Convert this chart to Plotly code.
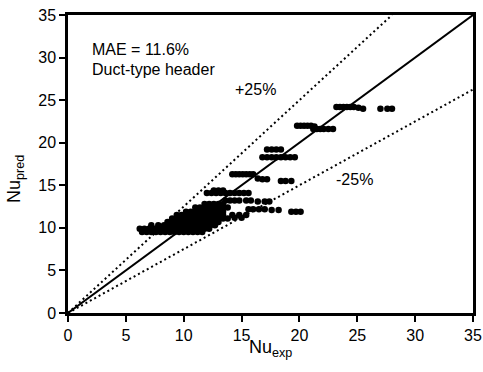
import plotly.graph_objects as go

# ---- data (Nu_exp, Nu_pred) ----
cluster_x = [6.4, 6.8, 7.2, 7.6, 8.0, 8.4, 8.8, 9.2, 9.6, 10.0, 10.4, 10.8, 11.2, 11.6,
             6.2, 6.6, 7.0, 7.4, 7.8, 8.2, 8.6, 9.0, 9.4, 9.8, 10.2, 10.6, 11.0, 11.4, 11.8, 12.2,
             7.2, 7.8, 8.3, 8.7, 9.1, 9.5, 9.9, 10.3, 10.7, 11.1, 11.5, 11.9, 12.3, 12.7,
             8.6, 9.0, 9.4, 9.8, 10.2, 10.6, 11.0, 11.4, 11.8, 12.2, 12.6, 13.0,
             9.0, 9.4, 9.8, 10.2, 10.6, 11.0, 11.4, 11.8, 12.2, 12.6, 13.0, 13.4, 13.8, 14.4, 15.0,
             9.4, 9.8, 10.2, 10.6, 11.0, 11.4, 11.8, 12.2, 12.6, 13.0, 13.4, 14.2, 14.8, 15.4,
             10.2, 10.6, 11.0, 11.4, 11.8, 12.2, 12.6, 13.0, 13.4,
             11.0, 11.4, 11.8, 12.2, 12.6, 13.0, 13.4, 13.8,
             11.8, 12.2, 12.6, 13.0, 13.4]
cluster_y = [9.5, 9.5, 9.5, 9.5, 9.5, 9.5, 9.5, 9.5, 9.5, 9.5, 9.5, 9.5, 9.5, 9.5,
             9.9, 9.9, 9.9, 9.9, 9.9, 9.9, 9.9, 9.9, 9.9, 9.9, 9.9, 9.9, 9.9, 9.9, 9.9, 9.9,
             10.3, 10.3, 10.3, 10.3, 10.3, 10.3, 10.3, 10.3, 10.3, 10.3, 10.3, 10.3, 10.3, 10.3,
             10.7, 10.7, 10.7, 10.7, 10.7, 10.7, 10.7, 10.7, 10.7, 10.7, 10.7, 10.7,
             11.1, 11.1, 11.1, 11.1, 11.1, 11.1, 11.1, 11.1, 11.1, 11.1, 11.1, 11.1, 11.1, 11.2, 11.2,
             11.5, 11.5, 11.5, 11.5, 11.5, 11.5, 11.5, 11.5, 11.5, 11.5, 11.5, 11.5, 11.5, 11.5,
             11.9, 11.9, 11.9, 11.9, 11.9, 11.9, 11.9, 11.9, 11.9,
             12.4, 12.4, 12.4, 12.4, 12.4, 12.4, 12.4, 12.4,
             12.8, 12.8, 12.8, 12.8, 12.8]

band_x = [13.6, 14.0, 14.4, 14.8, 15.4, 15.8, 16.4, 17.0, 17.4,
          15.6, 16.0, 16.5, 17.0, 17.6, 18.2, 19.3, 19.7, 20.1,
          12.0, 12.4, 12.8, 13.2, 13.6, 14.0, 14.4, 14.8, 15.2, 15.6,
          12.6, 13.0, 13.4,
          14.2, 14.5, 14.8, 15.1, 15.4, 15.7, 16.0,
          16.4, 16.8, 17.2, 18.4, 18.8, 19.3,
          16.8, 17.2, 17.6, 18.0, 18.4, 18.8, 19.2, 19.6,
          17.2, 17.6, 18.0, 18.4,
          19.8, 20.1, 20.4, 20.7, 21.0, 21.3,
          21.2, 21.5, 21.8, 22.1, 22.5, 22.9,
          23.2, 23.5, 23.8, 24.1, 24.4, 24.7, 25.1,
          25.5, 27.0, 27.6, 28.0]
band_y = [13.2, 13.2, 13.2, 13.2, 13.2, 13.2, 13.1, 13.1, 13.1,
          12.2, 12.2, 12.2, 12.2, 12.1, 12.1, 11.9, 11.9, 11.9,
          14.1, 14.1, 14.1, 14.1, 14.1, 14.1, 14.1, 14.1, 14.1, 14.1,
          14.4, 14.4, 14.4,
          16.3, 16.3, 16.3, 16.3, 16.3, 16.3, 16.3,
          15.8, 15.7, 15.7, 15.5, 15.5, 15.5,
          18.3, 18.3, 18.3, 18.3, 18.3, 18.3, 18.3, 18.3,
          19.2, 19.2, 19.2, 19.2,
          22.0, 22.0, 22.0, 22.0, 22.0, 21.9,
          21.6, 21.6, 21.6, 21.6, 21.6, 21.6,
          24.2, 24.2, 24.2, 24.2, 24.2, 24.2, 24.1,
          24.0, 24.0, 24.0, 24.0]

nu_exp = cluster_x + band_x
nu_pred = cluster_y + band_y

line_x = [0, 35]
parity_y = [0, 35]
plus_x = [0, 28]
plus_y = [0, 35]
minus_x = [0, 35]
minus_y = [0, 26.25]

FONT = "Liberation Sans, Arial, Helvetica, sans-serif"

fig = go.Figure()
fig.add_trace(go.Scatter(x=line_x, y=parity_y, mode="lines",
                         line=dict(color="black", width=2), hoverinfo="skip"))
fig.add_trace(go.Scatter(x=plus_x, y=plus_y, mode="lines",
                         line=dict(color="black", width=2, dash="2px,3px"), hoverinfo="skip"))
fig.add_trace(go.Scatter(x=minus_x, y=minus_y, mode="lines",
                         line=dict(color="black", width=2, dash="2px,3px"), hoverinfo="skip"))
fig.add_trace(go.Scatter(x=nu_exp, y=nu_pred, mode="markers",
                         marker=dict(color="black", size=6.5, line=dict(width=0))))

axis_common = dict(range=[0, 35], dtick=5, tick0=0, showgrid=False, zeroline=False,
                   showline=True, linecolor="black", linewidth=2.5, mirror=True,
                   ticks="outside", ticklen=6, tickwidth=2, tickcolor="black",
                   automargin=False,
                   tickfont=dict(family=FONT, size=16, color="black"))

fig.update_layout(
    width=483, height=372,
    margin=dict(l=68, r=10, t=15, b=59),
    paper_bgcolor="white", plot_bgcolor="white",
    showlegend=False,
    xaxis=axis_common,
    yaxis=axis_common,
    annotations=[
        dict(x=1.9, y=31.0, xref="x", yref="y", text="MAE = 11.6%", showarrow=False,
             xanchor="left", yanchor="middle", font=dict(family=FONT, size=16, color="black")),
        dict(x=1.9, y=28.6, xref="x", yref="y", text="Duct-type header", showarrow=False,
             xanchor="left", yanchor="middle", font=dict(family=FONT, size=16, color="black")),
        dict(x=16.2, y=26.2, xref="x", yref="y", text="+25%", showarrow=False,
             xanchor="center", yanchor="middle", font=dict(family=FONT, size=16, color="black")),
        dict(x=24.8, y=15.7, xref="x", yref="y", text="-25%", showarrow=False,
             xanchor="center", yanchor="middle", font=dict(family=FONT, size=16, color="black")),
        dict(x=0.5, y=-0.12, xref="paper", yref="paper", text="Nu<sub>exp</sub>", showarrow=False,
             xanchor="center", yanchor="middle", font=dict(family=FONT, size=18, color="black")),
        dict(x=-0.128, y=0.45, xref="paper", yref="paper", text="Nu<sub>pred</sub>", showarrow=False,
             textangle=-90, xanchor="center", yanchor="middle",
             font=dict(family=FONT, size=18, color="black")),
    ],
)

fig.write_html("out.html", config={"displayModeBar": False},
               post_script="document.body.style.margin='0';document.body.style.overflow='hidden';")
